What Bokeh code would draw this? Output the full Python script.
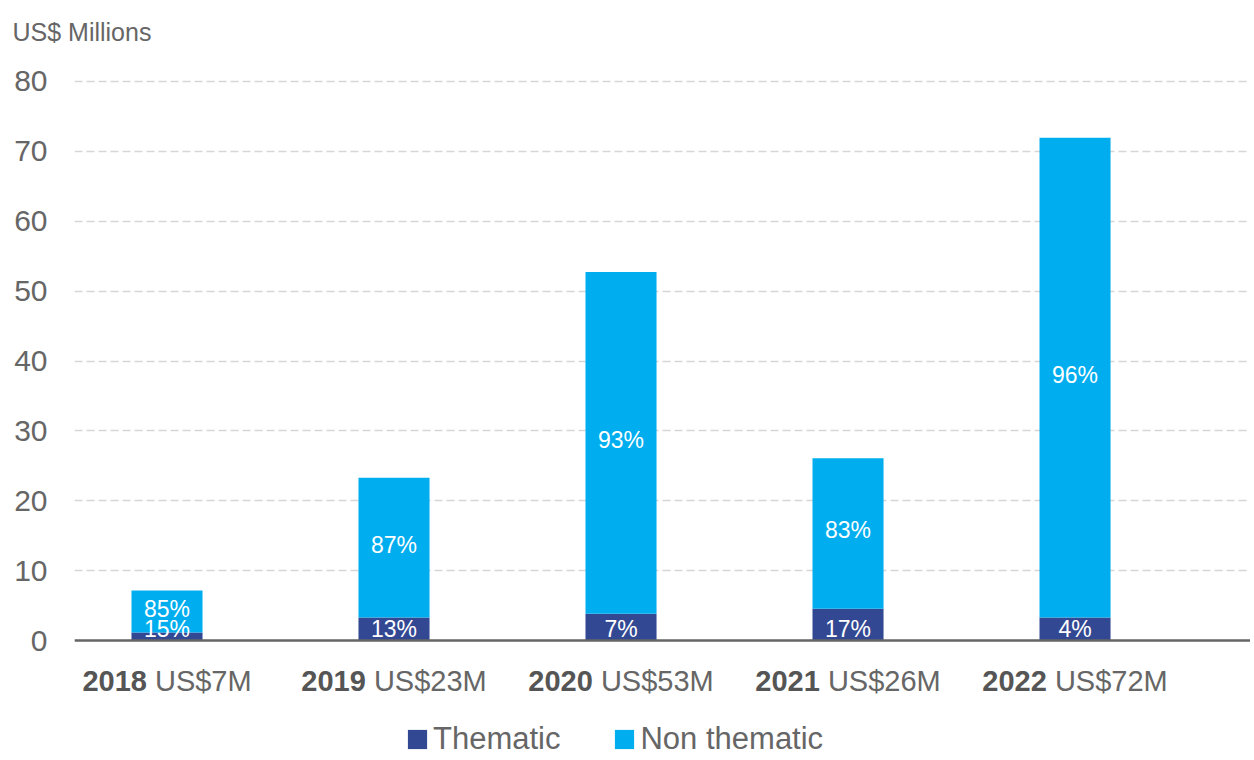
from bokeh.plotting import figure
from bokeh.models import ColumnDataSource, FixedTicker, Span, Legend, LegendItem
from bokeh.embed import file_html
from bokeh.resources import INLINE
from bokeh.core.properties import value

# ---- data ----
years = ["2018", "2019", "2020", "2021", "2022"]
total_labels = ["US$7M", "US$23M", "US$53M", "US$26M", "US$72M"]
thematic = [1.15, 3.3, 3.85, 4.55, 3.3]
non_thematic = [6.0, 20.0, 48.9, 21.55, 68.65]
thematic_pct = ["15%", "13%", "7%", "17%", "4%"]
non_thematic_pct = ["85%", "87%", "93%", "83%", "96%"]
y_ticks = [0, 10, 20, 30, 40, 50, 60, 70, 80]

DARK = "#334893"
CYAN = "#00AEEF"
GREY = "#666666"
FONT = "Liberation Sans"

xs = list(range(len(years)))
src = ColumnDataSource(dict(x=xs, thematic=thematic, non_thematic=non_thematic))

p = figure(width=1250, height=758, output_backend="svg", toolbar_location=None,
           x_range=(-0.4075, 4.773), y_range=(-16.88, 83.0),
           x_axis_location=None, min_border_left=74, min_border_right=0,
           min_border_top=60, min_border_bottom=0)
p.outline_line_color = None

p.title.text = "US$ Millions"
p.title.text_font = FONT
p.title.text_font_size = "25px"
p.title.text_font_style = "normal"
p.title.text_color = GREY
p.title.align = "left"
p.title.offset = -62
p.title.standoff = 30

ax = p.yaxis[0]
ax.ticker = FixedTicker(ticks=y_ticks)
ax.axis_line_color = None
ax.major_tick_line_color = None
ax.minor_tick_line_color = None
ax.major_tick_out = 0
ax.major_label_standoff = 27
ax.major_label_text_font = FONT
ax.major_label_text_font_size = "30px"
ax.major_label_text_color = GREY

p.xgrid.grid_line_color = None
p.ygrid.ticker = FixedTicker(ticks=y_ticks)
p.ygrid.grid_line_color = "#d6d6d6"
p.ygrid.grid_line_dash = "8 4"
p.ygrid.grid_line_width = 1.5

rs = p.vbar_stack(["thematic", "non_thematic"], x="x", width=0.313,
                  color=[DARK, CYAN], line_color=None, source=src)

p.add_layout(Span(location=0, dimension="width", line_color=GREY, line_width=2.5))

# percentage labels
mid_nt = [t + n / 2 for t, n in zip(thematic, non_thematic)]
lab_src = ColumnDataSource(dict(x=xs, zero=[0] * len(xs), mid=mid_nt,
                                tp=thematic_pct, ntp=non_thematic_pct))
p.text(x="x", y="zero", text="tp", source=lab_src, y_offset=-11.5,
       text_align="center", text_baseline="middle", text_color="white",
       text_font=value(FONT), text_font_size="23px")
p.text(x="x", y="mid", text="ntp", source=lab_src, y_offset=-3,
       text_align="center", text_baseline="middle", text_color="white",
       text_font=value(FONT), text_font_size="23px")

# category labels: bold year + normal amount, centred on each bar
widths = {c: 0.556 for c in "0123456789$"}
widths.update({" ": 0.278, "U": 0.722, "S": 0.667, "M": 0.833})
CAT_SIZE = 29


def tw(s):
    return sum(widths.get(c, 0.556) for c in s) * CAT_SIZE


yr_off, amt_off = [], []
for yv, am in zip(years, total_labels):
    W = tw(yv) + tw(" ") + tw(am)
    yr_off.append(-W / 2)
    amt_off.append(-W / 2 + tw(yv) + tw(" "))

cat_src = ColumnDataSource(dict(x=xs, zero=[0] * len(xs), yr=years, am=total_labels,
                                yo=yr_off, ao=amt_off))
p.text(x="x", y="zero", text="yr", source=cat_src, x_offset="yo", y_offset=40,
       text_align="left", text_baseline="middle", text_color="#555555",
       text_font=value(FONT), text_font_style="bold", text_font_size=f"{CAT_SIZE}px")
p.text(x="x", y="zero", text="am", source=cat_src, x_offset="ao", y_offset=40,
       text_align="left", text_baseline="middle", text_color=GREY,
       text_font=value(FONT), text_font_size=f"{CAT_SIZE}px")

legend = Legend(items=[LegendItem(label="Thematic", renderers=[rs[0]]),
                       LegendItem(label="Non thematic", renderers=[rs[1]])],
                orientation="horizontal", location=(331, 1))
legend.padding = 0
legend.margin = 0
legend.spacing = 52
legend.glyph_width = 24
legend.glyph_height = 24
legend.label_standoff = 4
legend.label_text_font = FONT
legend.label_text_font_size = "31px"
legend.label_text_color = GREY
legend.border_line_color = None
legend.background_fill_alpha = 0
p.add_layout(legend)

open("out.html", "w").write(file_html(p, INLINE))
